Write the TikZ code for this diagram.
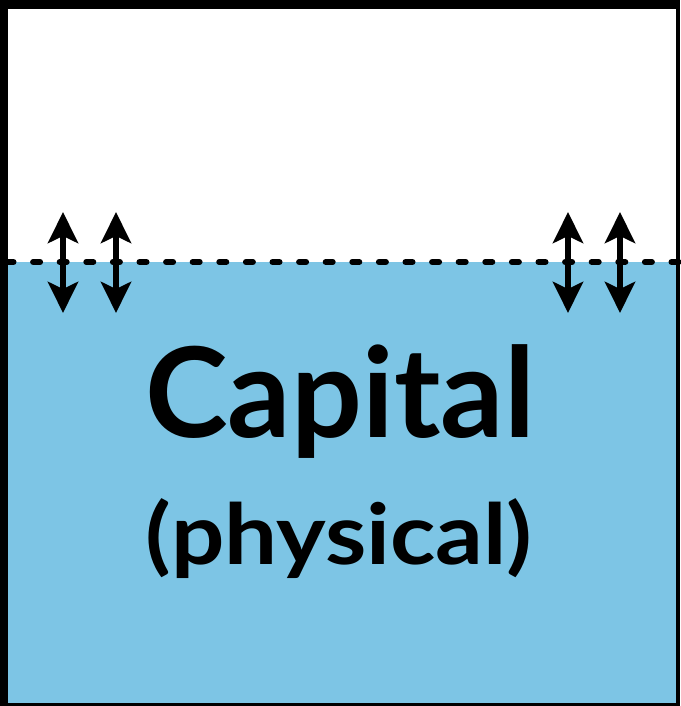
\documentclass[tikz,border=0pt]{standalone}
\usepackage{fontspec}
\setmainfont{Lato}
\usetikzlibrary{arrows.meta}
\definecolor{capblue}{RGB}{125,197,229}
\tikzset{
  updown/.style={line width=6pt, {Stealth[length=31pt,width=30pt,inset=7pt]}-{Stealth[length=31pt,width=30pt,inset=7pt]}},
  levelline/.style={line width=6pt, line cap=round, dash pattern=on 7pt off 19.6pt, dash phase=0pt},
  bigtext/.style={inner sep=0pt, anchor=base, font=\bfseries\fontsize{125}{125}\selectfont},
  subtext/.style={inner sep=0pt, anchor=base, xscale=1.12, font=\bfseries\fontsize{84}{84}\selectfont}
}
\begin{document}
\begin{tikzpicture}[x=1pt,y=1pt]
\useasboundingbox (0,0) rectangle (680,706);
% water
\fill[capblue] (0,0) rectangle (680,444);
% frame
\fill[black] (0,0) rectangle (7.5,706);
\fill[black] (0,697) rectangle (680,706);
\fill[black] (675.5,0) rectangle (680,706);
\fill[black] (0,0) rectangle (680,2.5);
% level line
\coordinate (lvL) at (6.5,444);
\coordinate (lvR) at (680,444);
\draw[levelline] (lvL) -- (lvR);
% arrows
\foreach \n/\x in {a/63,b/116,c/568,d/620}{
  \coordinate (\n top) at (\x,494);
  \coordinate (\n bot) at (\x,393);
  \draw[updown] (\n top) -- (\n bot);
}
% text
\node[bigtext] (cap) at (340,268) {Capital};
\node[subtext] (phys) at (339,141) {(physical)};
\end{tikzpicture}
\end{document}
